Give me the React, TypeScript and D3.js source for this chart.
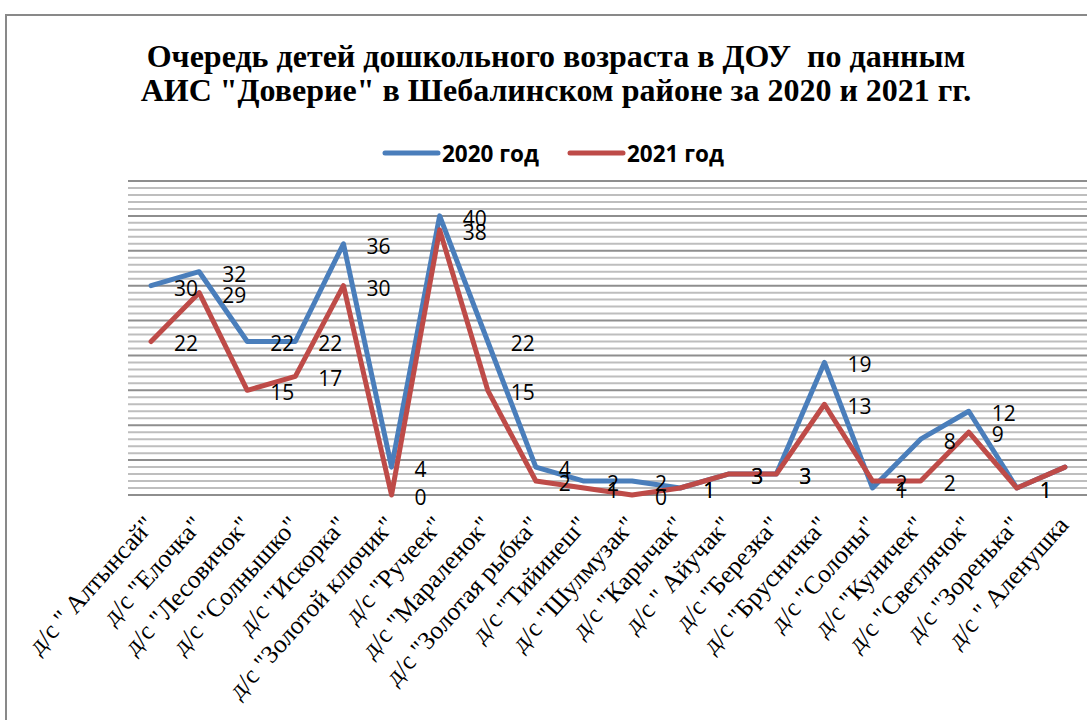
import React from "react";
import * as d3 from "d3";

const categories = [
  'д/с " Алтынсай"',
  'д/с "Елочка"',
  'д/с "Лесовичок"',
  'д/с "Солнышко"',
  'д/с "Искорка"',
  'д/с "Золотой ключик"',
  'д/с "Ручеек"',
  'д/с "Мараленок"',
  'д/с "Золотая рыбка"',
  'д/с "Тийинеш"',
  'д/с "Шулмузак"',
  'д/с "Карычак"',
  'д/с " Айучак"',
  'д/с "Березка"',
  'д/с "Брусничка"',
  'д/с "Солоны"',
  'д/с "Куничек"',
  'д/с "Светлячок"',
  'д/с "Зоренька"',
  'д/с " Аленушка',
];

const values2020 = [30, 32, 22, 22, 36, 4, 40, 22, 4, 2, 2, 1, 3, 3, 19, 1, 8, 12, 1, 4];
const values2021 = [22, 29, 15, 17, 30, 0, 38, 15, 2, 1, 0, 1, 3, 3, 13, 2, 2, 9, 1, 4];

const seriesNames = ["2020 год", "2021 год"];
const seriesColors = ["#4A7EBB", "#BE4B48"];

const titleLines = [
  "Очередь детей дошкольного возраста в ДОУ  по данным",
  'АИС "Доверие" в Шебалинском районе за 2020 и 2021 гг.',
];

const yMax = 45;
const gridTicks = d3.range(0, yMax + 1, 1);

export default function App() {
  const W = 1087;
  const H = 720;
  const plotLeft = 127;
  const plotRight = 1089;
  const plotTop = 181;
  const plotBottom = 495;

  const x = d3
    .scaleBand<string>()
    .domain(categories)
    .range([plotLeft, plotRight])
    .padding(0);
  const cx = (c: string) => (x(c) as number) + x.bandwidth() / 2;
  const y = d3.scaleLinear().domain([0, yMax]).range([plotBottom, plotTop]);

  const series = [values2020, values2021];
  const line = d3
    .line<number>()
    .x((_, i) => cx(categories[i]))
    .y((d) => y(d));

  const labelFont = "'Open Sans', 'Liberation Sans', sans-serif";

  return (
    <svg
      width={W}
      height={H}
      style={{ position: "absolute", left: 0, top: 0, background: "#fff" }}
    >
      <rect x={0} y={0} width={W} height={H} fill="#fff" />
      <rect x={6} y={15} width={1100} height={720} fill="none" stroke="#898989" strokeWidth={2} />

      {titleLines.map((t, i) => (
        <text
          key={i}
          x={556}
          y={67 + i * 34}
          textAnchor="middle"
          fontFamily="'Liberation Serif', 'Times New Roman', serif"
          fontWeight="bold"
          fontSize={32}
          fill="#000"
          style={{ whiteSpace: "pre" }}
        >
          {t}
        </text>
      ))}

      {/* legend */}
      {seriesNames.map((n, i) => {
        const lx = i === 0 ? 385 : 570;
        return (
          <g key={n}>
            <line x1={lx} x2={lx + 53} y1={153} y2={153} stroke={seriesColors[i]} strokeWidth={5} strokeLinecap="round" />
            <text x={lx + 57} y={162} fontFamily={labelFont} fontWeight="bold" fontSize={22.5} fill="#000">
              {n}
            </text>
          </g>
        );
      })}

      {/* gridlines */}
      {gridTicks.map((t) => (
        <line
          key={t}
          x1={plotLeft + 1}
          x2={plotRight}
          y1={y(t)}
          y2={y(t)}
          stroke={t % 5 === 0 ? "#8e8e8e" : "#bebebe"}
          strokeWidth={2}
        />
      ))}

      {/* lines */}
      {series.map((s, i) => (
        <path
          key={i}
          d={line(s) || ""}
          fill="none"
          stroke={seriesColors[i]}
          strokeWidth={5}
          strokeLinejoin="round"
          strokeLinecap="round"
        />
      ))}

      {/* data labels */}
      {series.map((s, si) =>
        s.map((v, i) => (
          <text
            key={`${si}-${i}`}
            x={cx(categories[i]) + 23}
            y={y(v) + 2}
            dominantBaseline="central"
            fontFamily={labelFont}
            fontSize={21}
            fill="#000"
          >
            {v}
          </text>
        ))
      )}

      {/* x axis labels */}
      {categories.map((c) => (
        <text
          key={c}
          transform={`translate(${cx(c) + 5},${plotBottom + 31}) rotate(-48)`}
          textAnchor="end"
          fontFamily="'Liberation Serif', 'Times New Roman', serif"
          fontSize={25.5}
          fill="#000"
          style={{ whiteSpace: "pre" }}
        >
          {c}
        </text>
      ))}
    </svg>
  );
}
